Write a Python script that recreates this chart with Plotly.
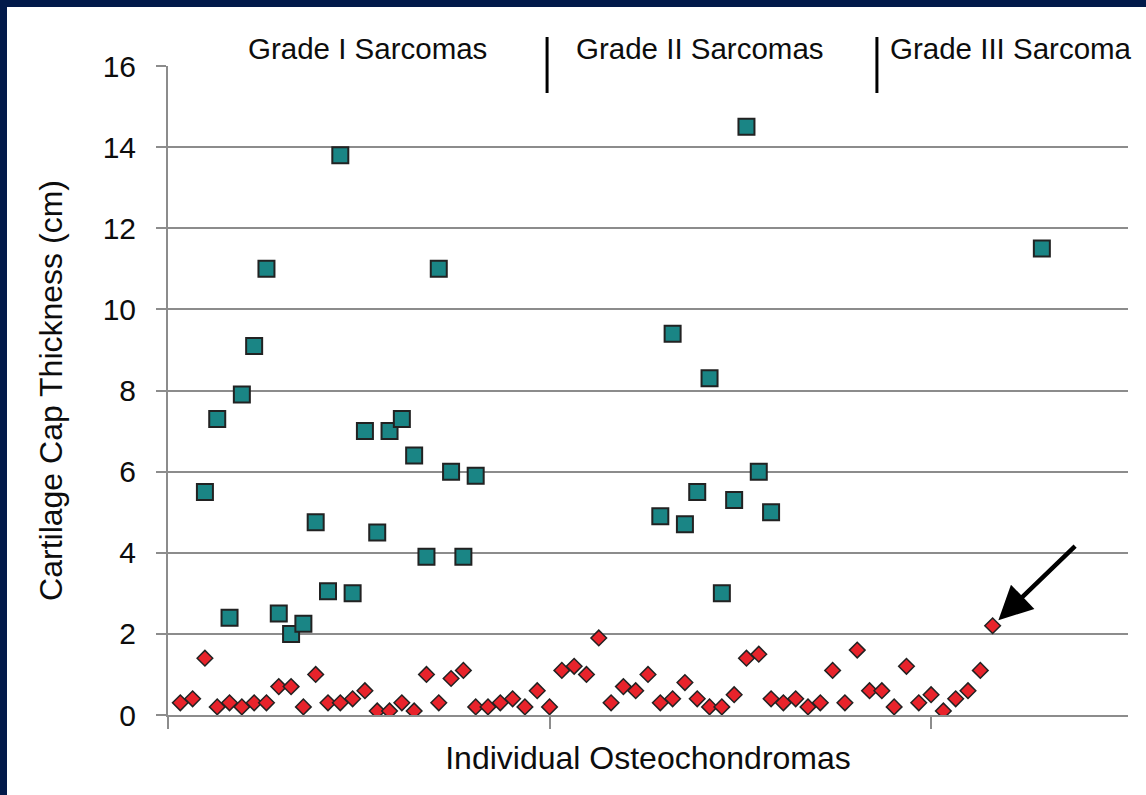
import plotly.graph_objects as go

# Osteochondroma cap thickness (cm), one per case, cases numbered 1..67
osteo_idx = list(range(1, 68))
osteo_cap = [
    0.3, 0.4, 1.4, 0.2, 0.3, 0.2, 0.3, 0.3, 0.7, 0.7,
    0.2, 1.0, 0.3, 0.3, 0.4, 0.6, 0.1, 0.1, 0.3, 0.1,
    1.0, 0.3, 0.9, 1.1, 0.2, 0.2, 0.3, 0.4, 0.2, 0.6,
    0.2, 1.1, 1.2, 1.0, 1.9, 0.3, 0.7, 0.6, 1.0, 0.3,
    0.4, 0.8, 0.4, 0.2, 0.2, 0.5, 1.4, 1.5, 0.4, 0.3,
    0.4, 0.2, 0.3, 1.1, 0.3, 1.6, 0.6, 0.6, 0.2, 1.2,
    0.3, 0.5, 0.1, 0.4, 0.6, 1.1, 2.2,
]

# Sarcoma cap thickness (cm) by grade
g1_idx = list(range(3, 26))
g1_cap = [5.5, 7.3, 2.4, 7.9, 9.1, 11.0, 2.5, 2.0, 2.25, 4.75, 3.05, 13.8,
          3.0, 7.0, 4.5, 7.0, 7.3, 6.4, 3.9, 11.0, 6.0, 3.9, 5.9]
g2_idx = list(range(40, 50))
g2_cap = [4.9, 9.4, 4.7, 5.5, 8.3, 3.0, 5.3, 14.5, 6.0, 5.0]
g3_idx = [71]
g3_cap = [11.5]

grade_labels = ["Grade I Sarcomas", "Grade II Sarcomas", "Grade III Sarcoma"]
grade_label_x = [16.2, 43.2, 58.5]
grade_label_anchor = ["center", "center", "left"]
grade_dividers = [30.8, 57.6]

X_RANGE = [0, 78]
Y_RANGE = [0, 16]

W, H = 1146, 795
M_L, M_R, M_T, M_B = 168, 18, 66, 80
PLOT_W = W - M_L - M_R
PLOT_H = H - M_T - M_B

NAVY = "#021a4a"
TEAL = "#1a8585"
RED = "#e8232b"
EDGE = "#222222"
GRID = "#8c8c8c"
FONT = "Liberation Sans, Arial, sans-serif"
INK = "#0d0d0d"

fig = go.Figure()

fig.add_trace(go.Scatter(
    x=g1_idx + g2_idx + g3_idx,
    y=g1_cap + g2_cap + g3_cap,
    mode="markers",
    marker=dict(symbol="square", size=16, color=TEAL,
                line=dict(color=EDGE, width=2)),
    showlegend=False, hoverinfo="x+y",
))

fig.add_trace(go.Scatter(
    x=osteo_idx, y=osteo_cap,
    mode="markers",
    marker=dict(symbol="diamond", size=12, color=RED,
                line=dict(color=EDGE, width=1.5)),
    showlegend=False, hoverinfo="x+y",
))


def px_to_paper_x(px):
    return (px - M_L) / PLOT_W


def px_to_paper_y(py):
    return (H - M_B - py) / PLOT_H


def data_to_paper_x(v):
    return (v - X_RANGE[0]) / (X_RANGE[1] - X_RANGE[0])


shapes = []
# navy frame along the top and left edges of the slide
shapes.append(dict(type="rect", xref="paper", yref="paper",
                   x0=px_to_paper_x(0), x1=px_to_paper_x(W),
                   y0=px_to_paper_y(7), y1=px_to_paper_y(0),
                   fillcolor=NAVY, line=dict(width=0), layer="above"))
shapes.append(dict(type="rect", xref="paper", yref="paper",
                   x0=px_to_paper_x(0), x1=px_to_paper_x(7),
                   y0=px_to_paper_y(H), y1=px_to_paper_y(0),
                   fillcolor=NAVY, line=dict(width=0), layer="above"))
# dividers between the grade groups
for xv in grade_dividers:
    shapes.append(dict(type="line", xref="paper", yref="paper",
                       x0=data_to_paper_x(xv), x1=data_to_paper_x(xv),
                       y0=px_to_paper_y(93), y1=px_to_paper_y(37),
                       line=dict(color="#000000", width=3)))

annotations = []
for txt, xv, anc in zip(grade_labels, grade_label_x, grade_label_anchor):
    annotations.append(dict(text=txt, x=xv, xref="x", y=px_to_paper_y(48),
                            yref="paper", xanchor=anc, yanchor="middle",
                            showarrow=False,
                            font=dict(family=FONT, size=29.5, color=INK)))

# arrow pointing at the largest osteochondroma cap
annotations.append(dict(x=osteo_idx[-1], y=osteo_cap[-1], xref="x", yref="y",
                        text="", showarrow=True, arrowhead=2, arrowsize=1.5,
                        arrowwidth=4.5, arrowcolor="#000000", standoff=8,
                        ax=84, ay=-81))

fig.update_layout(
    width=W, height=H,
    margin=dict(l=M_L, r=M_R, t=M_T, b=M_B, pad=0),
    paper_bgcolor="white", plot_bgcolor="white",
    font=dict(family=FONT, color=INK),
    shapes=shapes, annotations=annotations,
)

fig.update_xaxes(
    range=X_RANGE, showgrid=False, zeroline=False,
    showline=True, linecolor=GRID, linewidth=2,
    tickmode="array", tickvals=[0, 31, 62], showticklabels=False,
    ticks="outside", ticklen=12, tickwidth=2, tickcolor=GRID,
    title=dict(text="Individual Osteochondromas",
               font=dict(family=FONT, size=32, color=INK), standoff=19),
)

fig.update_yaxes(
    range=Y_RANGE, dtick=2, tick0=0,
    showgrid=True, gridcolor=GRID, gridwidth=2, zeroline=False,
    showline=True, linecolor=GRID, linewidth=2,
    ticks="outside", ticklen=10, tickwidth=2, tickcolor=GRID,
    ticklabelstandoff=14,
    tickfont=dict(family=FONT, size=30, color=INK),
    title=dict(text="Cartilage Cap Thickness (cm)",
               font=dict(family=FONT, size=32, color=INK), standoff=30),
)

fig.write_html("out.html")
